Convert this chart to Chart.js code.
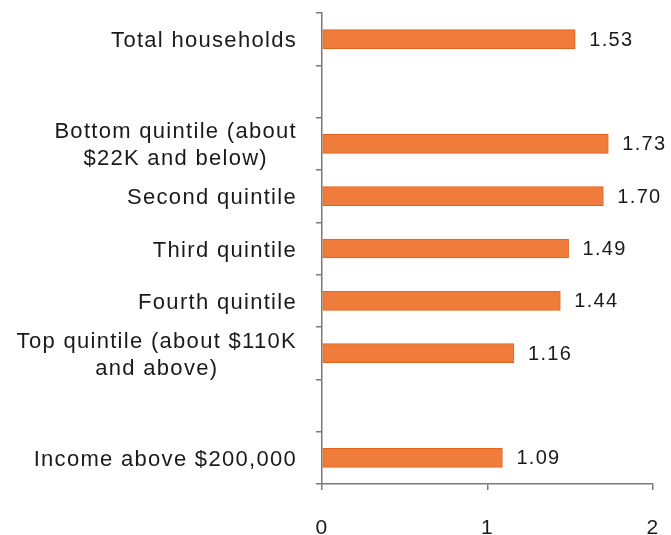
<!DOCTYPE html>
<html>
<head>
<meta charset="utf-8">
<script src="https://cdn.jsdelivr.net/npm/chart.js@4/dist/chart.umd.min.js"></script>
<style>
  html, body { margin: 0; padding: 0; background: #fff; }
  #wrap { width: 671px; height: 535px; position: relative; }
</style>
</head>
<body>
<div id="wrap"><canvas id="c" width="671" height="535"></canvas></div>
<script>
// Categories (empty strings are spacer rows in the original chart)
const categories = [
  'Total households',
  '',
  ['Bottom quintile (about', '$22K and below)'],
  'Second quintile',
  'Third quintile',
  'Fourth quintile',
  ['Top quintile (about $110K', 'and above)'],
  '',
  'Income above $200,000'
];
// Values
const values = [1.53, null, 1.73, 1.70, 1.49, 1.44, 1.16, null, 1.09];
const valueLabels = ['1.53', '', '1.73', '1.70', '1.49', '1.44', '1.16', '', '1.09'];
// Axis ticks
const xTicks = [0, 1, 2];

const FONT = "'Liberation Sans', Arial, sans-serif";
const SPACING = '1.3px';

const spacingPlugin = {
  id: 'spacing',
  beforeLayout(chart) { chart.ctx.letterSpacing = SPACING; },
  beforeDraw(chart) { chart.ctx.letterSpacing = SPACING; }
};

// Category labels: block right-aligned next to the axis, lines centred within the block
const categoryLabelPlugin = {
  id: 'categoryLabels',
  afterDraw(chart) {
    const ctx = chart.ctx;
    const yScale = chart.scales.y;
    ctx.save();
    ctx.letterSpacing = SPACING;
    ctx.font = '22px ' + FONT;
    ctx.fillStyle = '#1a1a1a';
    ctx.textAlign = 'center';
    ctx.textBaseline = 'middle';
    const rightEdge = yScale.right - 25;
    categories.forEach((lab, i) => {
      const lines = Array.isArray(lab) ? lab : [lab];
      if (!lines.join('')) return;
      const maxW = Math.max(...lines.map(l => ctx.measureText(l).width));
      const cx = rightEdge - maxW / 2;
      const cy = yScale.getPixelForValue(i) + 2;
      const lh = 27;
      lines.forEach((l, j) => {
        ctx.fillText(l, cx, cy + (j - (lines.length - 1) / 2) * lh);
      });
    });
    ctx.restore();
  }
};

const valueLabelPlugin = {
  id: 'valueLabels',
  afterDatasetsDraw(chart) {
    const ctx = chart.ctx;
    const meta = chart.getDatasetMeta(0);
    ctx.save();
    ctx.letterSpacing = SPACING;
    ctx.font = '20px ' + FONT;
    ctx.fillStyle = '#1a1a1a';
    ctx.textAlign = 'left';
    ctx.textBaseline = 'middle';
    meta.data.forEach((bar, i) => {
      if (values[i] === null) return;
      ctx.fillText(valueLabels[i], bar.x + 14, bar.y + 1);
    });
    ctx.restore();
  }
};

new Chart(document.getElementById('c'), {
  type: 'bar',
  data: {
    labels: categories,
    datasets: [{
      data: values,
      backgroundColor: '#F07C3C',
      borderColor: '#E3621E',
      borderWidth: 1,
      borderSkipped: false,
      barThickness: 19
    }]
  },
  options: {
    indexAxis: 'y',
    responsive: false,
    animation: false,
    devicePixelRatio: 1,
    layout: { padding: { top: 13, right: 18, bottom: 0, left: 0 } },
    plugins: {
      legend: { display: false },
      tooltip: { enabled: false }
    },
    scales: {
      x: {
        min: 0,
        max: 2,
        afterBuildTicks(scale) { scale.ticks = xTicks.map(v => ({ value: v })); },
        afterFit(scale) {
          scale.height = 51;
          scale.paddingLeft = 0; scale.paddingRight = 0;
          scale.paddingTop = 0; scale.paddingBottom = 0;
        },
        border: { display: true, color: '#7a7a7a', width: 1.5 },
        grid: { drawOnChartArea: false, drawTicks: true, tickLength: 6, color: '#7a7a7a', lineWidth: 1.5 },
        ticks: {
          padding: 26,
          color: '#1a1a1a',
          font: { family: FONT, size: 21 },
          maxRotation: 0
        }
      },
      y: {
        afterFit(scale) {
          scale.width = 322;
          scale.paddingLeft = 0; scale.paddingRight = 0;
          scale.paddingTop = 0; scale.paddingBottom = 0;
        },
        border: { display: true, color: '#7a7a7a', width: 1.5 },
        grid: { drawOnChartArea: false, drawTicks: true, tickLength: 6, color: '#7a7a7a', lineWidth: 1.5, offset: true },
        ticks: { display: false, autoSkip: false }
      }
    }
  },
  plugins: [spacingPlugin, valueLabelPlugin, categoryLabelPlugin]
});
</script>
</body>
</html>
